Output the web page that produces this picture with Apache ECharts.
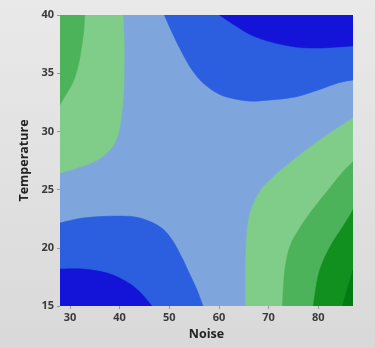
<!DOCTYPE html>
<html>
<head>
<meta charset="utf-8">
<script src="https://cdn.jsdelivr.net/npm/echarts@6/dist/echarts.min.js"></script>
<style>
  html, body { margin: 0; padding: 0; }
  #chart { width: 375px; height: 348px; }
</style>
</head>
<body>
<div id="chart"></div>
<script>
// axis ranges and ticks
const noiseRange = [28, 87];
const tempRange = [15, 40];
const noiseTicks = [30, 40, 50, 60, 70, 80];

// contour boundaries in (noise, temperature)
const blueTopMid = [[49.0, 40], [50.8, 38.28], [52.6, 36.74], [54.6, 35.27], [56.8, 34.16], [59.6, 33.3], [62.3, 32.87], [66.3, 32.6], [70.3, 32.7], [75.4, 32.96], [80.0, 33.56], [84.0, 34.16], [87, 34.42]];
const blueTopDark = [[60.1, 40], [63.1, 39.14], [66.5, 38.28], [70.5, 37.68], [75.4, 37.25], [80.0, 37.16], [84.0, 37.25], [87, 37.34]];
const blueBottomMid = [[28, 22.13], [32.6, 22.56], [39.5, 22.73], [44.1, 22.56], [48.2, 21.79], [50.6, 20.67], [52.6, 19.12], [54.2, 17.66], [55.6, 16.37], [56.8, 15]];
const blueBottomDark = [[28, 18.18], [32.6, 18.18], [37.5, 17.83], [41.5, 17.06], [44.1, 16.2], [46.5, 15]];
const greenLeftLight = [[40.7, 40], [40.9, 37.85], [40.9, 34.93], [40.7, 32.7], [39.9, 30.12], [38.5, 28.66], [35.5, 27.54], [31.4, 26.86], [28, 26.43]];
const greenLeftMid = [[33.0, 40], [32.8, 38.7], [32.4, 37.4], [31.8, 35.9], [30.8, 34.4], [29.4, 33.3], [28, 32.3]];
const greenRightLight = [[87, 31.15], [82.4, 29.86], [78.4, 28.66], [75.0, 27.54], [71.8, 26.43], [68.9, 25.22], [67.3, 24.1], [66.3, 22.99], [65.7, 21.53], [65.4, 18.95], [65.4, 15]];
const greenRightMid = [[87, 27.4], [84.9, 26.5], [82.0, 24.97], [78.8, 23.25], [76.4, 21.79], [74.4, 20.24], [73.4, 18.52], [73.0, 16.8], [72.8, 15]];
const greenRightDark = [[87, 23.25], [84.9, 21.79], [82.8, 20.41], [80.8, 18.69], [79.8, 17.23], [79.0, 15]];
const greenRightDeep = [[87, 18.09], [86.1, 16.8], [85.3, 15.69], [84.9, 15]];

const Colors = {
  base: "#7fa6dc",
  blueMid: "#2b5fdf",
  blueDark: "#1414d8",
  greenLight: "#80cd8a",
  greenMid: "#4db35a",
  greenDark: "#12901f",
  greenDeep: "#037a12",
};

const topLeft = [noiseRange[0], tempRange[1]];
const topRight = [noiseRange[1], tempRange[1]];
const bottomLeft = [noiseRange[0], tempRange[0]];
const bottomRight = [noiseRange[1], tempRange[0]];

const bands = [
  { edge: blueTopMid, corner: topRight, color: Colors.blueMid },
  { edge: blueTopDark, corner: topRight, color: Colors.blueDark },
  { edge: blueBottomMid, corner: bottomLeft, color: Colors.blueMid },
  { edge: blueBottomDark, corner: bottomLeft, color: Colors.blueDark },
  { edge: greenLeftLight, corner: topLeft, color: Colors.greenLight },
  { edge: greenLeftMid, corner: topLeft, color: Colors.greenMid },
  { edge: greenRightLight, corner: bottomRight, color: Colors.greenLight },
  { edge: greenRightMid, corner: bottomRight, color: Colors.greenMid },
  { edge: greenRightDark, corner: bottomRight, color: Colors.greenDark },
  { edge: greenRightDeep, corner: bottomRight, color: Colors.greenDeep },
];

// smooth curve through the boundary points, then close via the plot corner
function smoothPath(pts, corner) {
  let d = "M" + pts[0][0] + "," + pts[0][1];
  for (let i = 0; i < pts.length - 1; i++) {
    const p0 = pts[Math.max(i - 1, 0)];
    const p1 = pts[i];
    const p2 = pts[i + 1];
    const p3 = pts[Math.min(i + 2, pts.length - 1)];
    const c1x = p1[0] + (p2[0] - p0[0]) / 6;
    const c1y = p1[1] + (p2[1] - p0[1]) / 6;
    const c2x = p2[0] - (p3[0] - p1[0]) / 6;
    const c2y = p2[1] - (p3[1] - p1[1]) / 6;
    d += " C" + c1x + "," + c1y + " " + c2x + "," + c2y + " " + p2[0] + "," + p2[1];
  }
  d += " L" + corner[0] + "," + corner[1] + " Z";
  return d;
}

const bandSeries = bands.map((band) => ({
  type: "custom",
  coordinateSystem: "cartesian2d",
  clip: true,
  silent: true,
  data: band.edge,
  encode: { x: 0, y: 1 },
  renderItem: (params, api) => {
    if (params.dataIndex !== 0) return;
    const pts = band.edge.map((p) => api.coord(p));
    const corner = api.coord(band.corner);
    return {
      type: "path",
      shape: { pathData: smoothPath(pts, corner), layout: "center" },
      style: { fill: band.color, stroke: band.color, lineWidth: 0.5 },
    };
  },
}));

const chart = echarts.init(document.getElementById("chart"));

const labelStyle = {
  color: "#3a3a3a",
  fontFamily: "Open Sans",
  fontSize: 11,
  fontWeight: "bold",
};

chart.setOption({
  animation: false,
  backgroundColor: new echarts.graphic.LinearGradient(0, 0, 0, 1, [
    { offset: 0, color: "#e9e9e9" },
    { offset: 1, color: "#d9d9d9" },
  ]),
  grid: {
    left: 60,
    right: 22,
    top: 15,
    bottom: 42,
    show: true,
    backgroundColor: Colors.base,
    borderWidth: 0,
  },
  xAxis: {
    type: "value",
    min: noiseRange[0],
    max: noiseRange[1],
    name: "Noise",
    nameLocation: "middle",
    nameGap: 19,
    nameTextStyle: { ...labelStyle, fontSize: 12.5, color: "#222" },
    axisLine: { show: false },
    splitLine: { show: false },
    axisTick: { show: true, length: 3, lineStyle: { color: "#999" }, customValues: noiseTicks },
    axisLabel: { ...labelStyle, margin: 6, customValues: noiseTicks },
  },
  yAxis: {
    type: "value",
    min: tempRange[0],
    max: tempRange[1],
    interval: 5,
    name: "Temperature",
    nameLocation: "middle",
    nameGap: 26,
    nameTextStyle: { ...labelStyle, fontSize: 12.5, color: "#222" },
    axisLine: { show: false },
    splitLine: { show: false },
    axisTick: { show: true, length: 3, lineStyle: { color: "#999" } },
    axisLabel: { ...labelStyle, margin: 6 },
  },
  series: bandSeries,
});
</script>
</body>
</html>
